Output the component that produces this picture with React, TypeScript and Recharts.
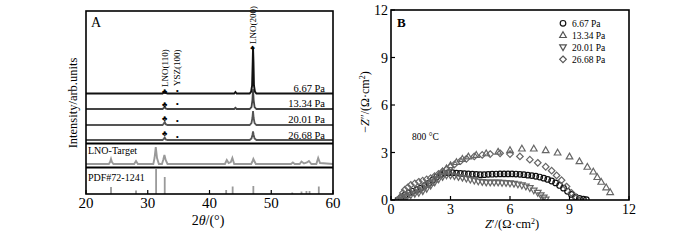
import {
  ComposedChart,
  Line,
  Scatter,
  ScatterChart,
  XAxis,
  YAxis,
  ReferenceLine,
} from "recharts";

const FONT = "'Liberation Serif', 'Times New Roman', serif";

// ---- Panel A: XRD patterns, [2theta, relative intensity] ----
const xrd667 = [
  [20, 0], [32.4, 0], [32.6, 1], [32.75, 1.8], [32.9, 0.5], [33.2, 0],
  [44.0, 0], [44.2, 1.5], [44.4, 0], [46.5, 0], [46.75, 2], [46.9, 8],
  [47.0, 32], [47.05, 46], [47.12, 32], [47.2, 8], [47.35, 2], [47.6, 0], [60, 0],
];
const xrd1334 = [
  [20, 0], [32.4, 0], [32.6, 1.2], [32.75, 2.2], [32.9, 0.6], [33.2, 0],
  [44.0, 0], [44.2, 1.2], [44.4, 0], [46.5, 0], [46.8, 2], [46.95, 9],
  [47.05, 20], [47.15, 9], [47.3, 2], [47.6, 0], [60, 0],
];
const xrd2001 = [
  [20, 0], [32.4, 0], [32.6, 1.5], [32.75, 3], [32.9, 0.8], [33.2, 0],
  [46.5, 0], [46.8, 2], [46.95, 7], [47.05, 14], [47.15, 7], [47.3, 2], [47.6, 0], [60, 0],
];
const xrd2668 = [
  [20, 0], [32.4, 0], [32.6, 1.2], [32.75, 2.5], [32.9, 0.6], [33.2, 0],
  [46.5, 0], [46.8, 1.5], [46.95, 5], [47.05, 8.5], [47.15, 5], [47.3, 1.5], [47.6, 0], [60, 0],
];
const lnoTarget = [
  [20, 0], [23.7, 0], [23.9, 2], [24.05, 5], [24.2, 2], [24.45, 0],
  [27.8, 0], [28.1, 3], [28.4, 0],
  [30.9, 0], [31.1, 6], [31.3, 17], [31.5, 6], [31.8, 0],
  [32.3, 0], [32.5, 4], [32.7, 9], [32.9, 4], [33.2, 0],
  [42.5, 0], [42.8, 4], [43.1, 1], [43.45, 2], [43.7, 6], [44.0, 0],
  [46.75, 0], [46.95, 2.5], [47.1, 5], [47.3, 2.5], [47.5, 0],
  [53.2, 0], [53.5, 1.5], [53.8, 0], [54.6, 0], [54.9, 2.5], [55.3, 0.5],
  [55.8, 1.5], [56.1, 3], [56.5, 0], [57.3, 0], [57.6, 6], [57.9, 1], [60, 0],
];
const pdfLines = [
  [24.05, 7], [28.1, 3.5], [31.35, 25], [32.75, 17], [42.7, 4], [43.75, 7.5],
  [47.1, 8], [53.4, 1.5], [54.9, 2.5], [55.7, 3], [56.2, 3], [57.7, 7.5],
];

// ---- Panel B: impedance spectra, [Z', -Z''] ----
const eis667 = [
  [0.35, 0], [0.5, 0.15], [0.7, 0.3], [0.9, 0.45], [1.1, 0.55], [1.3, 0.65],
  [1.5, 0.75], [1.7, 0.9], [1.9, 1.05], [2.1, 1.25], [2.3, 1.45], [2.5, 1.6],
  [2.7, 1.7], [2.9, 1.72], [3.1, 1.72], [3.3, 1.7], [3.5, 1.68], [3.7, 1.66],
  [3.9, 1.65], [4.1, 1.63], [4.3, 1.62], [4.5, 1.6], [4.7, 1.6], [4.9, 1.62],
  [5.1, 1.63], [5.3, 1.64], [5.5, 1.65], [5.7, 1.65], [5.9, 1.65], [6.1, 1.65],
  [6.3, 1.64], [6.5, 1.62], [6.7, 1.6], [6.9, 1.57], [7.1, 1.54], [7.3, 1.5],
  [7.5, 1.45], [7.7, 1.38], [7.9, 1.3], [8.1, 1.2], [8.3, 1.08], [8.5, 0.92],
  [8.7, 0.75], [8.9, 0.55], [9.1, 0.35], [9.3, 0.2], [9.5, 0.1], [9.7, 0.05], [9.85, 0.02],
];
const eis1334 = [
  [0.4, 0], [0.6, 0.15], [0.8, 0.3], [1.0, 0.45], [1.2, 0.55], [1.4, 0.65],
  [1.6, 0.8], [1.8, 0.95], [2.0, 1.1], [2.2, 1.3], [2.4, 1.55], [2.6, 1.8],
  [2.8, 2.0], [3.0, 2.2], [3.3, 2.4], [3.6, 2.6], [3.9, 2.75], [4.3, 2.85],
  [4.8, 2.95], [5.4, 3.05], [6.0, 3.15], [6.6, 3.25], [7.2, 3.25], [7.8, 3.15],
  [8.4, 3.0], [9.0, 2.75], [9.5, 2.45], [9.9, 2.1], [10.2, 1.8], [10.4, 1.45],
  [10.6, 1.15], [10.85, 0.8], [11.05, 0.5],
];
const eis2001 = [
  [0.4, 0], [0.6, 0.1], [0.8, 0.2], [1.0, 0.3], [1.2, 0.38], [1.4, 0.45],
  [1.6, 0.55], [1.8, 0.7], [2.0, 0.9], [2.2, 1.1], [2.4, 1.3], [2.6, 1.45],
  [2.8, 1.55], [3.0, 1.55], [3.2, 1.5], [3.4, 1.45], [3.6, 1.4], [3.8, 1.35],
  [4.0, 1.28], [4.2, 1.22], [4.4, 1.17], [4.6, 1.13], [4.8, 1.1], [5.0, 1.1],
  [5.2, 1.1], [5.4, 1.1], [5.6, 1.08], [5.8, 1.07], [6.0, 1.05], [6.2, 1.02],
  [6.4, 0.98], [6.6, 0.92], [6.8, 0.85], [7.0, 0.75], [7.2, 0.6], [7.4, 0.45],
  [7.55, 0.3], [7.7, 0.15], [7.8, 0.03],
];
const eis2668 = [
  [0.4, 0], [0.5, 0.2], [0.6, 0.45], [0.7, 0.65], [0.85, 0.8], [1.0, 0.95],
  [1.2, 1.05], [1.4, 1.15], [1.6, 1.22], [1.8, 1.3], [2.0, 1.38], [2.2, 1.5],
  [2.4, 1.65], [2.6, 1.8], [2.8, 1.95], [3.0, 2.1], [3.2, 2.25], [3.5, 2.45],
  [3.8, 2.6], [4.2, 2.75], [4.6, 2.85], [5.0, 2.9], [5.5, 2.95], [6.0, 2.9],
  [6.5, 2.75], [7.0, 2.55], [7.4, 2.35], [7.8, 2.1], [8.1, 1.85], [8.35, 1.55],
  [8.6, 1.25], [8.85, 0.85], [9.1, 0.45], [9.35, 0.15],
];

const pressures = ["6.67 Pa", "13.34 Pa", "20.01 Pa", "26.68 Pa"];
const xTicksA = [20, 30, 40, 50, 60];
const ticksB = [0, 3, 6, 9, 12];

// layout of panel A (y units = px above plot bottom)
const A_W = 350, A_H = 240;
const A_MARGIN = { top: 11, right: 17, bottom: 16, left: 86 };
const X_AXIS_H = 30;
const A_PLOT_BOTTOM = A_H - A_MARGIN.bottom - X_AXIS_H;
const offsets = [100.5, 85, 69, 54];
const TARGET_OFFSET = 30;

const toPts = (arr: number[][], off = 0) => arr.map(([x, y]) => ({ x, y: y + off }));

const traceStyle = [
  { stroke: "#111", width: 1.9 },
  { stroke: "#444", width: 1.8 },
  { stroke: "#555", width: 1.8 },
  { stroke: "#555", width: 1.8 },
];

function ATick(props: any) {
  const { x, y, payload } = props;
  return (
    <g>
      <line x1={x} x2={x} y1={y} y2={y - 4} stroke="#000" strokeWidth={1.2} />
      <text x={x} y={y + 14} textAnchor="middle" fontFamily={FONT} fontSize={15} fill="#000">
        {payload.value}
      </text>
    </g>
  );
}

function BXTick(props: any) {
  const { x, y, payload } = props;
  return (
    <g>
      <line x1={x} x2={x} y1={y} y2={y - 4} stroke="#000" strokeWidth={1.2} />
      <text x={x} y={y + 13.5} textAnchor="middle" fontFamily={FONT} fontSize={14} fill="#000">
        {payload.value}
      </text>
    </g>
  );
}

function BYTick(props: any) {
  const { x, y, payload } = props;
  return (
    <g>
      <line x1={x} x2={x + 4} y1={y} y2={y} stroke="#000" strokeWidth={1.2} />
      <text x={x - 3} y={y + 5} textAnchor="end" fontFamily={FONT} fontSize={14} fill="#000">
        {payload.value}
      </text>
    </g>
  );
}

function PdfBar(props: any) {
  const { cx, cy } = props;
  return <line x1={cx} x2={cx} y1={cy} y2={A_PLOT_BOTTOM} stroke="#9a9a9a" strokeWidth={1.8} />;
}

function marker(kind: string, cx: number, cy: number, color: string) {
  const s = 3.3;
  if (kind === "circle") {
    return <circle cx={cx} cy={cy} r={2.8} fill="none" stroke={color} strokeWidth={1.2} />;
  }
  if (kind === "up") {
    return (
      <polygon
        points={`${cx},${cy - s} ${cx + s},${cy + s * 0.75} ${cx - s},${cy + s * 0.75}`}
        fill="none" stroke={color} strokeWidth={1.2}
      />
    );
  }
  if (kind === "down") {
    return (
      <polygon
        points={`${cx},${cy + s} ${cx + s},${cy - s * 0.75} ${cx - s},${cy - s * 0.75}`}
        fill="none" stroke={color} strokeWidth={1.2}
      />
    );
  }
  return (
    <polygon
      points={`${cx},${cy - s} ${cx + s},${cy} ${cx},${cy + s} ${cx - s},${cy}`}
      fill="none" stroke={color} strokeWidth={1.2}
    />
  );
}

const seriesB = [
  { data: eis667, kind: "circle", color: "#111" },
  { data: eis1334, kind: "up", color: "#666" },
  { data: eis2001, kind: "down", color: "#666" },
  { data: eis2668, kind: "diamond", color: "#666" },
];

function PanelA() {
  const traces = [xrd667, xrd1334, xrd2001, xrd2668];
  return (
    <ComposedChart width={A_W} height={A_H} margin={A_MARGIN}>
      <XAxis
        type="number"
        dataKey="x"
        domain={[20, 60]}
        ticks={xTicksA}
        height={X_AXIS_H}
        axisLine={false}
        tickLine={false}
        tickSize={0}
        tickMargin={0}
        tick={<ATick />}
        allowDataOverflow
      />
      <YAxis type="number" dataKey="y" domain={[0, 183]} hide width={0} allowDataOverflow />
      <ReferenceLine y={50.5} stroke="#000" strokeWidth={2} />
      <ReferenceLine y={26.5} stroke="#000" strokeWidth={2} />
      <Scatter data={toPts(pdfLines)} dataKey="y" shape={<PdfBar />} isAnimationActive={false} />
      <Line
        data={toPts(lnoTarget, TARGET_OFFSET)}
        dataKey="y"
        type="linear"
        stroke="#999"
        strokeWidth={1.9}
        dot={false}
        isAnimationActive={false}
      />
      {traces.map((t, i) => (
        <Line
          key={pressures[i]}
          data={toPts(t, offsets[i])}
          dataKey="y"
          type="linear"
          stroke={traceStyle[i].stroke}
          strokeWidth={traceStyle[i].width}
          dot={false}
          isAnimationActive={false}
        />
      ))}
    </ComposedChart>
  );
}

function PanelB() {
  return (
    <ScatterChart width={350} height={240} margin={{ top: 10, right: 71, bottom: 10, left: 0 }}>
      <XAxis
        type="number"
        dataKey="x"
        domain={[0, 12]}
        ticks={ticksB}
        height={X_AXIS_H}
        axisLine={false}
        tickLine={false}
        tickSize={0}
        tickMargin={0}
        tick={<BXTick />}
        allowDataOverflow
      />
      <YAxis
        type="number"
        dataKey="y"
        domain={[0, 12]}
        ticks={ticksB}
        width={41}
        axisLine={false}
        tickLine={false}
        tickSize={0}
        tickMargin={0}
        tick={<BYTick />}
        allowDataOverflow
      />
      {seriesB.map((s, i) => (
        <Scatter
          key={pressures[i]}
          name={pressures[i]}
          data={toPts(s.data)}
          isAnimationActive={false}
          shape={(p: any) => marker(s.kind, p.cx, p.cy, s.color)}
        />
      ))}
    </ScatterChart>
  );
}

export default function App() {
  const clubY = [94, 107, 120.5, 136];
  const dotY = [94, 107, 124, 140];
  const labelY = [92, 107, 123, 139];
  const legendY = [23.3, 35, 47.3, 59.3];
  const txt = { fontFamily: FONT, fill: "#000" } as const;
  return (
    <div style={{ position: "absolute", left: 0, top: 0, width: 700, height: 240, background: "#fff" }}>
      <div style={{ position: "absolute", left: 0, top: 0 }}>
        <PanelA />
      </div>
      <div style={{ position: "absolute", left: 350, top: 0 }}>
        <PanelB />
      </div>
      <svg
        width={700}
        height={240}
        style={{ position: "absolute", left: 0, top: 0, pointerEvents: "none" }}
      >
        {/* panel A */}
        <rect x={86} y={11} width={247} height={183} fill="none" stroke="#000" strokeWidth={1.6} />
        <text x={91} y={27} fontSize={14} {...txt}>A</text>
        <text x={167.5} y={87} fontSize={9} transform="rotate(-90 167.5 87)" {...txt}>LNO(110)</text>
        <text x={180} y={86} fontSize={9} transform="rotate(-90 180 86)" {...txt}>YSZ(100)</text>
        <text x={255.5} y={44} fontSize={9} transform="rotate(-90 255.5 44)" {...txt}>LNO(200)</text>
        <text x={252.5} y={49.5} fontSize={7} textAnchor="middle" {...txt}>♣</text>
        {clubY.map((y, i) => (
          <text key={"c" + i} x={164.5} y={y} fontSize={8} textAnchor="middle" {...txt}>♣</text>
        ))}
        {dotY.map((y, i) => (
          <text key={"d" + i} x={177.3} y={y} fontSize={9} textAnchor="middle" {...txt}>•</text>
        ))}
        {pressures.map((p, i) => (
          <text key={p} x={325} y={labelY[i]} fontSize={10.5} textAnchor="end" {...txt}>{p}</text>
        ))}
        <text x={88} y={153.5} fontSize={10} {...txt}>LNO-Target</text>
        <text x={88} y={181} fontSize={10} {...txt}>PDF#72-1241</text>
        <text x={76.5} y={103} fontSize={12.5} textAnchor="middle" transform="rotate(-90 76.5 103)" {...txt}>
          Intensity/arb.units
        </text>
        <text x={208} y={225} fontSize={14} textAnchor="middle" {...txt}>
          2<tspan fontStyle="italic">θ</tspan>/(°)
        </text>

        {/* panel B */}
        <rect x={391} y={10} width={238} height={190} fill="none" stroke="#000" strokeWidth={1.6} />
        <text x={397} y={27} fontSize={13} fontWeight="bold" {...txt}>B</text>
        <text x={412} y={140} fontSize={9.5} {...txt}>800 °C</text>
        {seriesB.map((s, i) => (
          <g key={"lg" + i}>
            {marker(s.kind, 563, legendY[i], s.kind === "circle" ? "#111" : "#555")}
            <text x={572} y={legendY[i] + 3.5} fontSize={9.5} {...txt}>{pressures[i]}</text>
          </g>
        ))}
        <text x={369} y={102} fontSize={12} textAnchor="middle" transform="rotate(-90 369 102)" {...txt}>
          −<tspan fontStyle="italic">Z</tspan>″/(Ω·cm<tspan dy={-4} fontSize={8}>2</tspan><tspan dy={4}>)</tspan>
        </text>
        <text x={512} y={228} fontSize={12.5} textAnchor="middle" {...txt}>
          <tspan fontStyle="italic">Z</tspan>′/(Ω·cm<tspan dy={-4} fontSize={8}>2</tspan><tspan dy={4}>)</tspan>
        </text>
      </svg>
    </div>
  );
}
